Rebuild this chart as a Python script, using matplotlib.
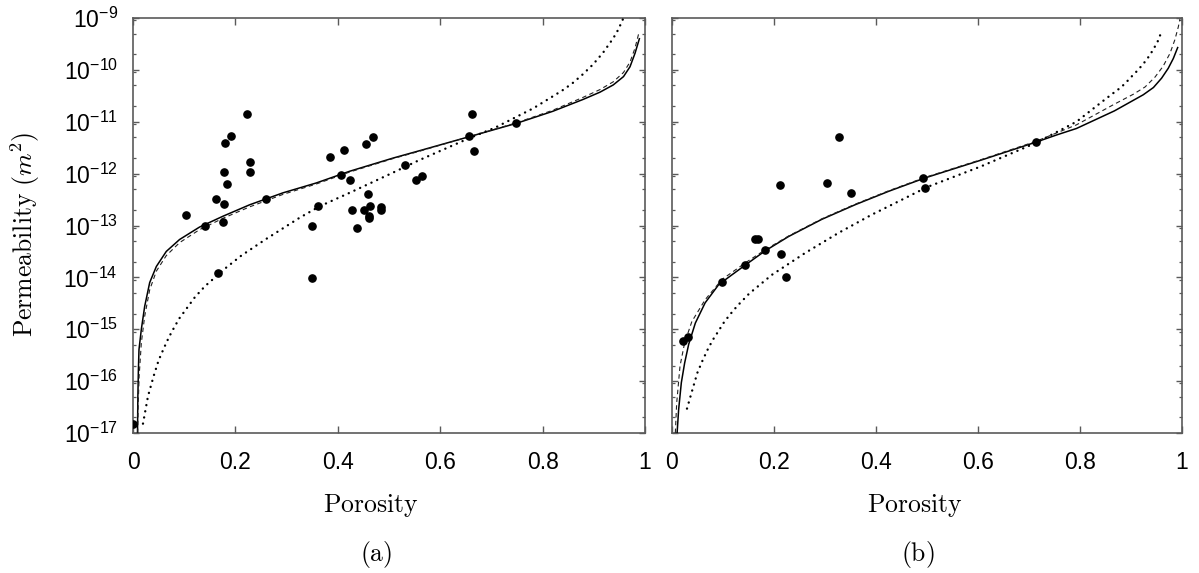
import matplotlib
matplotlib.use('Agg')
import matplotlib.pyplot as plt
import numpy as np
from matplotlib.ticker import FixedLocator, NullFormatter

plt.rcParams['font.family'] = ['Liberation Sans', 'DejaVu Sans']

# ---------------- Panel (a): measured points ----------------
a_phi = [0.1035, 0.1406, 0.1615, 0.178, 0.176, 0.1667, 0.179, 0.191, 0.178, 0.183,
         0.2226, 0.2285, 0.2293, 0.2605, 0.350, 0.349, 0.3617, 0.3855, 0.4064, 0.4117,
         0.4243, 0.4287, 0.4384, 0.4503, 0.4555, 0.4593, 0.4623, 0.460, 0.4608, 0.469,
         0.4845, 0.4838, 0.531, 0.553, 0.5635, 0.6558, 0.6617, 0.6654, 0.7488, 0.0]
a_k = [1.6e-13, 1.0e-13, 3.3e-13, 2.6e-13, 1.19e-13, 1.2e-14, 3.85e-12, 5.2e-12, 1.08e-12, 6.3e-13,
       1.39e-11, 1.68e-12, 1.07e-12, 3.3e-13, 9.8e-14, 9.8e-15, 2.35e-13, 2.1e-12, 9.3e-13, 2.9e-12,
       7.6e-13, 1.95e-13, 8.9e-14, 1.95e-13, 3.7e-12, 4.0e-13, 2.35e-13, 1.55e-13, 1.38e-13, 5.1e-12,
       2.23e-13, 1.95e-13, 1.48e-12, 7.6e-13, 9.1e-13, 5.2e-12, 1.39e-11, 2.78e-12, 9.3e-12, 1.5e-17]

# Panel (a) model curves (porosity, log10 permeability)
a_solid_phi = [0.0088, 0.0095, 0.0105, 0.0117, 0.0163, 0.0228, 0.0326, 0.0456, 0.065, 0.091,
               0.130, 0.176, 0.228, 0.293, 0.358, 0.423, 0.508, 0.559, 0.656, 0.749,
               0.8195, 0.879, 0.912, 0.938, 0.958, 0.9707, 0.9805, 0.989]
a_solid_logk = [-17.0, -16.3, -15.8, -15.39, -15.0, -14.56, -14.1, -13.79, -13.50, -13.27,
                -13.03, -12.82, -12.60, -12.37, -12.18, -11.955, -11.70, -11.56, -11.29, -11.03,
                -10.80, -10.57, -10.43, -10.29, -10.13, -9.94, -9.68, -9.40]

a_dash_phi = [0.0092, 0.0100, 0.012, 0.0163, 0.0228, 0.0326, 0.0456, 0.065, 0.091, 0.130,
              0.176, 0.228, 0.293, 0.358, 0.423, 0.508, 0.559, 0.656, 0.749, 0.8195,
              0.879, 0.912, 0.938, 0.958, 0.9707, 0.9805, 0.9877]
a_dash_logk = [-17.0, -16.5, -15.9, -15.26, -14.75, -14.24, -13.88, -13.58, -13.33, -13.08,
               -12.86, -12.64, -12.40, -12.20, -11.97, -11.71, -11.57, -11.29, -11.02, -10.78,
               -10.53, -10.38, -10.23, -10.05, -9.85, -9.58, -9.30]

a_dot_phi = [0.0195, 0.0293, 0.0404, 0.050, 0.0605, 0.0703, 0.0807, 0.0905, 0.101, 0.121,
             0.1406, 0.181, 0.2116, 0.26, 0.3255, 0.3646, 0.423, 0.508, 0.559, 0.656,
             0.708, 0.782, 0.838, 0.858, 0.878, 0.898, 0.918, 0.938, 0.948, 0.957]
a_dot_logk = [-16.82, -16.29, -15.90, -15.60, -15.36, -15.15, -14.96, -14.79, -14.65, -14.38,
              -14.17, -13.82, -13.58, -13.26, -12.85, -12.63, -12.37, -11.98, -11.74, -11.32,
              -11.11, -10.74, -10.40, -10.26, -10.09, -9.90, -9.67, -9.39, -9.22, -9.02]

# ---------------- Panel (b): measured points ----------------
b_phi = [0.328, 0.2108, 0.304, 0.351, 0.4925, 0.4955, 0.713, 0.163, 0.168, 0.1824,
         0.2137, 0.2243, 0.1427, 0.098, 0.0218, 0.0314]
b_k = [5.1e-12, 6.0e-13, 6.5e-13, 4.2e-13, 8.1e-13, 5.2e-13, 4.0e-12, 5.5e-14, 5.6e-14, 3.3e-14,
       2.8e-14, 1.02e-14, 1.7e-14, 8.3e-15, 5.9e-16, 7.1e-16]

b_solid_phi = [0.0098, 0.013, 0.0183, 0.0248, 0.0327, 0.0458, 0.065, 0.0915, 0.1176, 0.1427,
               0.1824, 0.229, 0.294, 0.359, 0.425, 0.497, 0.606, 0.713, 0.7555, 0.793,
               0.8676, 0.924, 0.944, 0.960, 0.973, 0.983, 0.9915]
b_solid_logk = [-17.03, -16.55, -16.03, -15.65, -15.29, -14.88, -14.49, -14.14, -13.95, -13.77,
                -13.49, -13.21, -12.88, -12.60, -12.34, -12.08, -11.74, -11.395, -11.25, -11.13,
                -10.79, -10.48, -10.34, -10.16, -9.97, -9.78, -9.57]

b_dash_phi = [0.0065, 0.0092, 0.0157, 0.0248, 0.039, 0.065, 0.098, 0.1438, 0.1824, 0.229,
              0.294, 0.359, 0.425, 0.497, 0.606, 0.713, 0.793, 0.8676, 0.9045, 0.9275,
              0.947, 0.963, 0.9765, 0.986, 0.9928, 0.996]
b_dash_logk = [-17.0, -16.42, -15.71, -15.26, -14.85, -14.43, -14.04, -13.72, -13.47, -13.20,
               -12.87, -12.59, -12.33, -12.07, -11.73, -11.38, -11.06, -10.66, -10.47, -10.33,
               -10.14, -9.93, -9.68, -9.42, -9.17, -9.02]

b_dot_phi = [0.0294, 0.0405, 0.0497, 0.060, 0.070, 0.0797, 0.0908, 0.101, 0.111, 0.121,
             0.131, 0.1516, 0.196, 0.261, 0.327, 0.392, 0.4575, 0.5, 0.606, 0.713,
             0.793, 0.849, 0.869, 0.88, 0.8896, 0.900, 0.911, 0.921, 0.931, 0.941,
             0.9516, 0.96]
b_dot_logk = [-16.53, -16.15, -15.84, -15.60, -15.39, -15.21, -15.04, -14.88, -14.75, -14.63,
              -14.52, -14.31, -13.95, -13.53, -13.14, -12.79, -12.47, -12.26, -11.86, -11.41,
              -11.00, -10.57, -10.42, -10.34, -10.25, -10.14, -10.03, -9.92, -9.80, -9.65,
              -9.47, -9.26]

x_ticks = [0, 0.2, 0.4, 0.6, 0.8, 1]
x_tick_labels = ['0', '0.2', '0.4', '0.6', '0.8', '1']
y_ticks = [1e-17, 1e-16, 1e-15, 1e-14, 1e-13, 1e-12, 1e-11, 1e-10, 1e-9]
y_tick_labels = [r'$\mathregular{10^{-17}}$', r'$\mathregular{10^{-16}}$', r'$\mathregular{10^{-15}}$',
                 r'$\mathregular{10^{-14}}$', r'$\mathregular{10^{-13}}$', r'$\mathregular{10^{-12}}$',
                 r'$\mathregular{10^{-11}}$', r'$\mathregular{10^{-10}}$', r'$\mathregular{10^{-9}}$']
minor_subs = [2, 5, 9]

W, H = 1199, 573
fig = plt.figure(figsize=(W / 100, H / 100), dpi=100)
ax_a = fig.add_axes([133 / W, 1 - 433 / H, 512 / W, 415 / H])
ax_b = fig.add_axes([672 / W, 1 - 433 / H, 510 / W, 415 / H])

spine_col = '#5a5a5a'


def draw(ax, phi, k, sp, sk, dp, dk, op, ok, show_ylabels):
    ax.set_yscale('log')
    ax.plot(sp, 10.0 ** np.asarray(sk), color='black', lw=1.1, zorder=3)
    ax.plot(dp, 10.0 ** np.asarray(dk), color='#222222', lw=0.8, dashes=(4, 3), zorder=3)
    ax.plot(op, 10.0 ** np.asarray(ok), color='black', lw=1.7, linestyle=(0, (0.05, 2.6)),
            dash_capstyle='round', zorder=3)
    ax.plot(phi, k, 'o', color='black', ms=5.2, zorder=4, clip_on=True)
    ax.set_xlim(0, 1)
    ax.set_ylim(1e-17, 1e-9)
    ax.set_xticks(x_ticks)
    ax.set_xticklabels(x_tick_labels)
    ax.set_yticks(y_ticks)
    minor = [s * t for t in y_ticks[:-1] for s in minor_subs]
    ax.yaxis.set_minor_locator(FixedLocator(minor))
    ax.yaxis.set_minor_formatter(NullFormatter())
    if show_ylabels:
        ax.set_yticklabels(y_tick_labels)
    else:
        ax.set_yticklabels([])
    ax.tick_params(axis='x', which='major', direction='in', top=True, bottom=True,
                   length=5, width=1.0, color=spine_col, labelsize=16.5, pad=13)
    ax.tick_params(axis='y', which='major', direction='in', left=True, right=True,
                   length=4, width=1.0, color=spine_col, labelsize=16.5, pad=11)
    ax.tick_params(axis='y', which='minor', direction='in', left=True, right=True,
                   length=2.5, width=0.9, color=spine_col)
    for s in ax.spines.values():
        s.set_color(spine_col)
        s.set_linewidth(1.2)


draw(ax_a, a_phi, a_k, a_solid_phi, a_solid_logk, a_dash_phi, a_dash_logk,
     a_dot_phi, a_dot_logk, True)
draw(ax_b, b_phi, b_k, b_solid_phi, b_solid_logk, b_dash_phi, b_dash_logk,
     b_dot_phi, b_dot_logk, False)

fs = 18.5
fig.text(371 / W, 1 - 512 / H, r'$\mathrm{Porosity}$', math_fontfamily='cm', fontsize=fs,
         ha='center', va='baseline')
fig.text(915 / W, 1 - 512 / H, r'$\mathrm{Porosity}$', math_fontfamily='cm', fontsize=fs,
         ha='center', va='baseline')
fig.text(376 / W, 1 - 555 / H, r'$\mathrm{(a)}$', math_fontfamily='cm', fontsize=fs,
         ha='center', va='center')
fig.text(918 / W, 1 - 555 / H, r'$\mathrm{(b)}$', math_fontfamily='cm', fontsize=fs,
         ha='center', va='center')
fig.text(25 / W, 1 - 234 / H, r'$\mathrm{Permeability}\ (m^2)$', math_fontfamily='cm',
         fontsize=fs, ha='center', va='center', rotation=90)

fig.savefig('out.png', dpi=100)
